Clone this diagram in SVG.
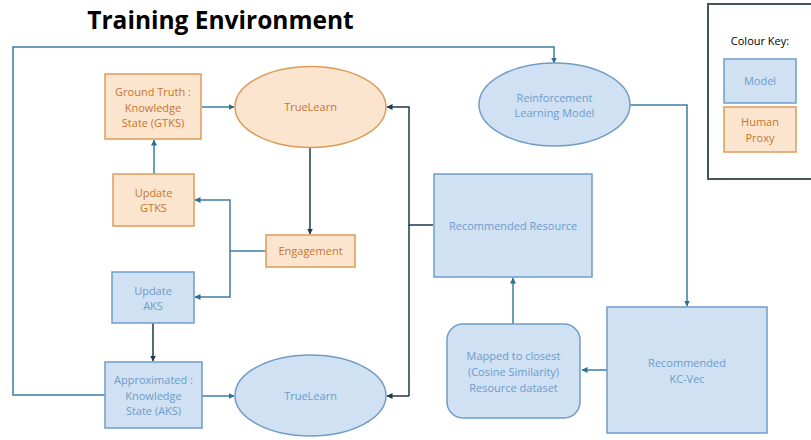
<svg xmlns="http://www.w3.org/2000/svg" width="811" height="440" viewBox="0 0 811 440">
<defs>
<marker id="ab" viewBox="0 0 6 6" refX="5.5" refY="3" markerWidth="6" markerHeight="6" markerUnits="userSpaceOnUse" orient="auto"><path d="M0,0 L6,3 L0,6 z" fill="#2E6E93"/></marker>
<marker id="ad" viewBox="0 0 6 6" refX="5.5" refY="3" markerWidth="6" markerHeight="6" markerUnits="userSpaceOnUse" orient="auto"><path d="M0,0 L6,3 L0,6 z" fill="#1E3A4C"/></marker>
<style>
.t{font-family:"Open Sans","Liberation Sans",sans-serif;font-size:11px;text-anchor:middle}
.b rect,.b ellipse{fill:#CFE1F2;stroke:#6F9CC7;stroke-width:1.5}
.b text{fill:#6E9CCB}
.o rect,.o ellipse{fill:#FCE5CE;stroke:#DE9B58;stroke-width:1.5}
.o text{fill:#C47630}
.cb{fill:none;stroke:#3B7EA3;stroke-width:1.5;marker-end:url(#ab)}
.cd{fill:none;stroke:#1E3A4C;stroke-width:1.5;marker-end:url(#ad)}
.cbn{fill:none;stroke:#3B7EA3;stroke-width:1.5}
.cdn{fill:none;stroke:#1E3A4C;stroke-width:1.5}
</style>
</defs>
<rect width="811" height="440" fill="#fff"/>
<text x="220.5" y="29" font-family="Open Sans, Liberation Sans, sans-serif" font-size="24.5" font-weight="bold" text-anchor="middle" fill="#000">Training Environment</text>

<g id="connectors">
<path class="cb" d="M105,395 H13 V47 H554 V63"/>
<path class="cb" d="M202,107 H234"/>
<path class="cd" d="M433,225 H409 V107 H387"/>
<path class="cdn" d="M409,225 V396"/>
<path class="cd" d="M409,396 H387"/>
<path class="cd" d="M310,147 V234"/>
<path class="cb" d="M154,174 V140"/>
<path class="cbn" d="M266,251 H230"/>
<path class="cb" d="M230,251 V200 H195"/>
<path class="cb" d="M230,251 V297 H195"/>
<path class="cd" d="M153,323 V361"/>
<path class="cb" d="M202,396 H234"/>
<path class="cb" d="M630,105 H687 V306"/>
<path class="cb" d="M607,370 H582"/>
<path class="cb" d="M513,324 V278"/>
</g>

<g id="ground-truth" class="o"><rect x="105" y="74" width="96" height="65"/>
<text class="t" x="153" y="96">Ground Truth :</text><text class="t" x="153" y="112">Knowledge</text><text class="t" x="153" y="127">State (GTKS)</text></g>
<g id="truelearn-top" class="o"><ellipse cx="310.5" cy="107" rx="75.5" ry="40.5"/>
<text class="t" x="310.5" y="111">TrueLearn</text></g>
<g id="update-gtks" class="o"><rect x="113" y="174" width="81" height="52"/>
<text class="t" x="153.5" y="197">Update</text><text class="t" x="153.5" y="212">GTKS</text></g>
<g id="engagement" class="o"><rect x="266" y="235" width="89" height="32"/>
<text class="t" x="310.5" y="255">Engagement</text></g>
<g id="update-aks" class="b"><rect x="112" y="272" width="82" height="51"/>
<text class="t" x="153" y="295">Update</text><text class="t" x="153" y="310">AKS</text></g>
<g id="approximated" class="b"><rect x="105" y="362" width="97" height="66"/>
<text class="t" x="153.5" y="384">Approximated :</text><text class="t" x="153.5" y="400">Knowledge</text><text class="t" x="153.5" y="415">State (AKS)</text></g>
<g id="truelearn-bottom" class="b"><ellipse cx="310.5" cy="395.5" rx="75.5" ry="40.5"/>
<text class="t" x="310.5" y="400">TrueLearn</text></g>
<g id="rl-model" class="b"><ellipse cx="554.5" cy="104.5" rx="75.5" ry="41.5"/>
<text class="t" x="554.5" y="102">Reinforcement</text><text class="t" x="554.5" y="117">Learning Model</text></g>
<g id="recommended-resource" class="b"><rect x="434" y="174" width="158" height="103"/>
<text class="t" x="513" y="230">Recommended Resource</text></g>
<g id="mapped" class="b"><rect x="447" y="324" width="133" height="94" rx="16"/>
<text class="t" x="513.5" y="360">Mapped to closest</text><text class="t" x="513.5" y="376">(Cosine Similarity)</text><text class="t" x="513.5" y="392">Resource dataset</text></g>
<g id="kc-vec" class="b"><rect x="607" y="307" width="160" height="126"/>
<text class="t" x="687" y="367">Recommended</text><text class="t" x="687" y="383">KC-Vec</text></g>

<g id="colour-key">
<rect x="708" y="4" width="110" height="175" fill="#fff" stroke="#44555F" stroke-width="2"/>
<text class="t" x="760" y="45" fill="#000">Colour Key:</text>
<g class="b"><rect x="724" y="59" width="72" height="44"/><text class="t" x="760" y="85">Model</text></g>
<g class="o"><rect x="724" y="107" width="72" height="45"/><text class="t" x="760" y="126">Human</text><text class="t" x="760" y="142">Proxy</text></g>
</g>
</svg>
